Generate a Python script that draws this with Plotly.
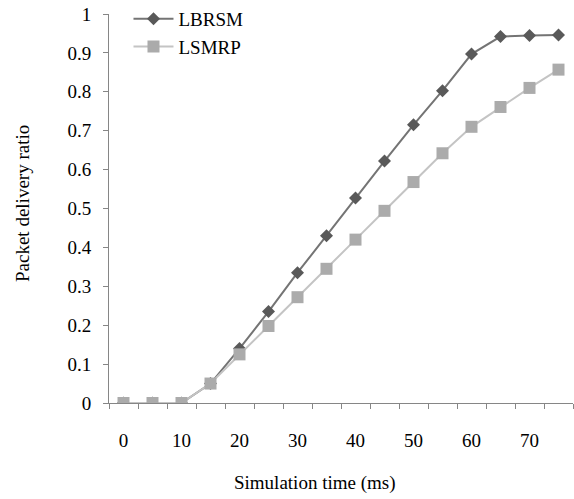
import plotly.graph_objects as go

# Simulation time (ms) for each sample
sim_time = [0, 5, 10, 15, 20, 25, 30, 35, 40, 45, 50, 55, 60, 65, 70, 75]

# Packet delivery ratio per protocol
lbrsm = [0, 0, 0, 0.05, 0.14, 0.235, 0.335, 0.43, 0.527, 0.622, 0.715, 0.803, 0.897, 0.942, 0.945, 0.946]
lsmrp = [0, 0, 0, 0.05, 0.125, 0.198, 0.272, 0.345, 0.42, 0.494, 0.568, 0.642, 0.71, 0.761, 0.81, 0.857]

x_labels = [0, 10, 20, 30, 40, 50, 60, 70]
y_ticks = [round(i * 0.1, 1) for i in range(11)]

FONT = "Liberation Serif, Times New Roman, serif"
AXIS_GRAY = "#868686"

half_step = (sim_time[1] - sim_time[0]) / 2
boundaries = [t - half_step for t in sim_time] + [sim_time[-1] + half_step]

fig = go.Figure()
fig.add_trace(go.Scatter(
    x=sim_time, y=lbrsm, name="LBRSM", mode="lines+markers",
    line=dict(color="#747474", width=2),
    marker=dict(symbol="diamond", size=10, color="#595959"),
))
fig.add_trace(go.Scatter(
    x=sim_time, y=lsmrp, name="LSMRP", mode="lines+markers",
    line=dict(color="#c4c4c4", width=2),
    marker=dict(symbol="square", size=12, color="#ababab"),
))

fig.update_layout(
    width=574, height=499,
    margin=dict(l=109, r=1, t=14, b=96, autoexpand=False),
    paper_bgcolor="white", plot_bgcolor="white",
    font=dict(family=FONT, size=19, color="#000000"),
    showlegend=True,
    legend=dict(
        x=0.042, xanchor="left",
        y=1.01, yref="container", yanchor="top",
        bgcolor="rgba(0,0,0,0)", borderwidth=0,
        font=dict(family=FONT, size=19, color="#000000"),
        itemwidth=40, tracegroupgap=0,
    ),
    xaxis=dict(
        range=[boundaries[0], boundaries[-1]],
        tickmode="array", tickvals=x_labels,
        ticks="", ticklabelstandoff=20,
        showline=True, linecolor=AXIS_GRAY, linewidth=1,
        showgrid=False, zeroline=False,
        minor=dict(tickmode="array", tickvals=boundaries, ticks="outside",
                   ticklen=5, tickcolor=AXIS_GRAY, tickwidth=1, showgrid=False),
    ),
    yaxis=dict(
        range=[0, 1],
        tickmode="array", tickvals=y_ticks,
        ticks="outside", ticklen=5, tickcolor=AXIS_GRAY, tickwidth=1,
        ticklabelstandoff=8,
        showline=True, linecolor=AXIS_GRAY, linewidth=1,
        showgrid=False, zeroline=False,
    ),
    annotations=[
        dict(text="Simulation time (ms)", xref="paper", yref="paper",
             x=(315 - 109) / 464, y=-(483 - 403) / 389,
             xanchor="center", yanchor="middle", showarrow=False,
             font=dict(family=FONT, size=19)),
        dict(text="Packet delivery ratio", xref="paper", yref="paper",
             x=-(109 - 22) / 464, y=(403 - 204) / 389, textangle=-90,
             xanchor="center", yanchor="middle", showarrow=False,
             font=dict(family=FONT, size=19)),
    ],
)

fig.write_html("out.html")
